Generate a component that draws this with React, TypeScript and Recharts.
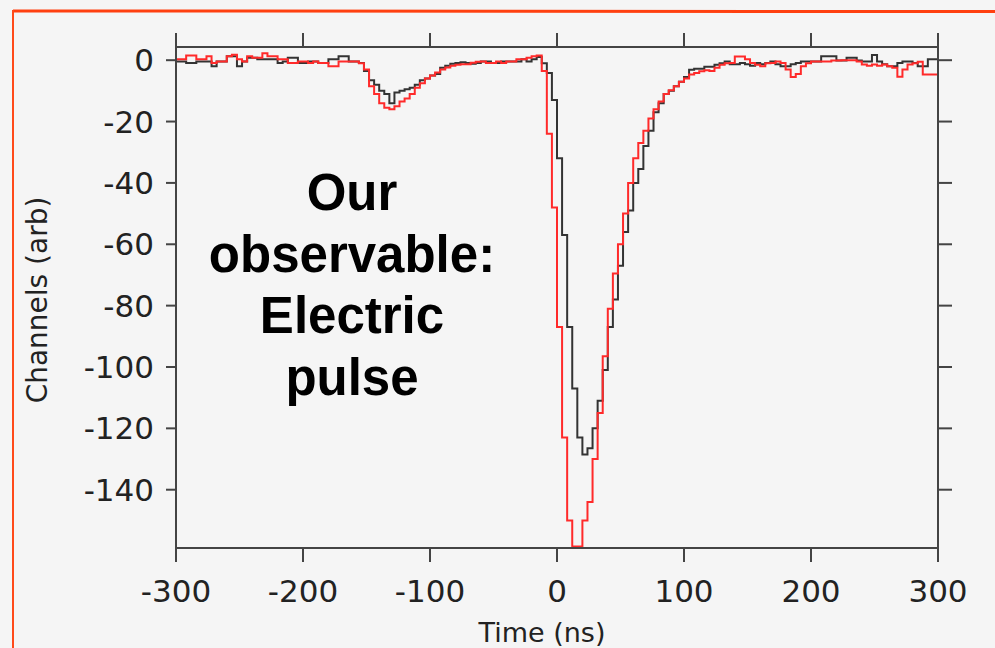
import React from "react";
import { LineChart, Line, XAxis, YAxis } from "recharts";

// Time bins (ns), 4 ns wide; last entry closes the final step
const times = [
  -300, -296, -292, -288, -284, -280, -276, -272, -268, -264,
  -260, -256, -252, -248, -244, -240, -236, -232, -228, -224,
  -220, -216, -212, -208, -204, -200, -196, -192, -188, -184,
  -180, -176, -172, -168, -164, -160, -156, -152, -148, -144,
  -140, -136, -132, -128, -124, -120, -116, -112, -108, -104,
  -100, -96, -92, -88, -84, -80, -76, -72, -68, -64,
  -60, -56, -52, -48, -44, -40, -36, -32, -28, -24,
  -20, -16, -12, -8, -4, 0, 4, 8, 12, 16,
  20, 24, 28, 32, 36, 40, 44, 48, 52, 56,
  60, 64, 68, 72, 76, 80, 84, 88, 92, 96,
  100, 104, 108, 112, 116, 120, 124, 128, 132, 136,
  140, 144, 148, 152, 156, 160, 164, 168, 172, 176,
  180, 184, 188, 192, 196, 200, 204, 208, 212, 216,
  220, 224, 228, 232, 236, 240, 244, 248, 252, 256,
  260, 264, 268, 272, 276, 280, 284, 288, 292, 296,
  300,
];

const redPulse = [
  0.3, 0.3, 1.5, 1.5, 0.3, 0.3, 1.3, -0.9, -0.4, -0.4,
  1.3, 1.8, 0.3, -0.4, 1.3, 0.8, 0.8, 2.3, 1.3, 1.3,
  0.3, 0.3, -0.9, -0.9, -0.4, -0.4, -0.9, -0.4, -0.9, -0.9,
  -2.0, -2.0, -0.4, -0.4, -0.4, -0.4, -1.0, -3.0, -8.5, -11,
  -14, -15.5, -16, -15, -13.5, -12.5, -11, -9, -7.5, -6,
  -5, -4, -3, -2.4, -1.8, -1.5, -1.3, -1.3, -0.8, -0.5,
  -0.4, -0.9, -0.9, -0.4, -0.9, -0.4, -0.4, 0.3, 0.3, 0.8,
  1.3, 1.5, -3.5, -24, -48, -87, -123, -150, -158.5, -158.5,
  -150, -144, -130, -115, -96.5, -81, -69.5, -60, -50, -40,
  -32, -27, -23, -19, -16, -13.5, -11, -9.8, -8.5, -7,
  -6, -4.7, -4.2, -3.6, -3.3, -3.5, -2.5, -1.5, -1.0, -0.9,
  1.2, 1.2, 0.3, -0.9, -1.5, -2.0, -1.0, -0.9, -0.4, -0.9,
  -3.0, -5.5, -4.5, -2.0, -1.0, -0.4, -0.4, -0.4, -0.4, -0.1,
  -0.1, 0.0, 0.0, 0.0, -0.4, -1.4, -1.8, -1.4, -1.8, -1.4,
  -2.0, -2.5, -5.4, -3.0, -1.4, -1.0, -0.5, -4.7, -4.7, -4.7,
  -4.7,
];

const blackPulse = [
  -0.4, -0.4, -0.9, -0.9, -0.4, -0.4, -0.4, -2.0, -0.4, -0.4,
  1.3, 1.3, -2.0, -0.4, 0.8, 0.8, 0.3, 0.3, 0.3, 0.3,
  -0.9, -0.4, 0.8, 0.8, -0.9, -0.9, -0.4, -0.4, -0.9, -0.9,
  0.3, 0.3, 1.3, 1.3, -0.4, -0.4, -0.9, -3.5, -6.5, -8,
  -10, -11, -14, -10.5, -10, -9.5, -9, -8, -6.5, -6,
  -5, -4.5, -2.5, -1.8, -1.2, -0.9, -0.7, -0.9, -1.2, -0.9,
  -0.4, -0.4, -0.9, -0.9, -0.4, -0.4, -0.4, -0.4, 0.3, -0.4,
  0.3, 1.0, -1.0, -4.2, -13, -32, -57, -87, -107, -123,
  -128.5, -126.5, -120, -111, -101, -87, -78, -67, -56, -49,
  -40, -35.5, -28, -23, -17, -14, -11, -10, -8.5, -7,
  -5.5, -3.1, -2.8, -2.8, -2.1, -2.1, -1.5, -1.0, -0.4, -1.3,
  -1.3, -0.9, -1.3, -1.8, -0.9, -1.3, -0.9, -0.4, -1.3, -2.0,
  -2.0, -1.3, -0.9, -0.4, -0.4, -0.4, -0.4, 1.3, 1.3, 1.3,
  -0.1, -0.1, 0.8, 0.8, -0.1, -0.4, -0.4, 1.7, -0.4, -1.3,
  -2.0, -2.0, -0.9, -0.4, -0.4, -0.9, -2.0, -2.0, 0.3, 0.3,
  0.3,
];

const xTicks = [-300, -200, -100, 0, 100, 200, 300];
const yTicks = [-140, -120, -100, -80, -60, -40, -20, 0];
const xTitle = "Time (ns)";
const yTitle = "Channels (arb)";
const noteLines = ["Our", "observable:", "Electric", "pulse"];

const data = times.map((t, i) => ({ t, red: redPulse[i], black: blackPulse[i] }));

const AXIS = "#444";
const FONT = "DejaVu Sans";
const blank = () => "";

export default function App() {
  return (
    <div style={{ position: "absolute", left: 0, top: 0, width: 995, height: 648, background: "#f5f5f5", overflow: "hidden" }}>
      <LineChart
        width={995}
        height={648}
        data={data}
        margin={{ top: 32, right: 43, bottom: 40, left: 116 }}
      >
        <XAxis
          xAxisId="bottom"
          dataKey="t"
          type="number"
          domain={[-300, 300]}
          ticks={xTicks}
          height={60}
          tickSize={14}
          tickMargin={18}
          axisLine={{ stroke: AXIS, strokeWidth: 2 }}
          tickLine={{ stroke: AXIS, strokeWidth: 2 }}
          tick={{ fill: "#222", fontSize: 31, fontFamily: FONT }}
          allowDataOverflow
        />
        <XAxis
          xAxisId="top"
          orientation="top"
          dataKey="t"
          type="number"
          domain={[-300, 300]}
          ticks={xTicks}
          height={15}
          tickSize={14}
          tickFormatter={blank}
          axisLine={{ stroke: AXIS, strokeWidth: 2 }}
          tickLine={{ stroke: AXIS, strokeWidth: 2 }}
          allowDataOverflow
        />
        <YAxis
          yAxisId="left"
          type="number"
          domain={[-159, 4.3]}
          ticks={yTicks}
          width={60}
          tickSize={10}
          tickMargin={12}
          axisLine={{ stroke: AXIS, strokeWidth: 2 }}
          tickLine={{ stroke: AXIS, strokeWidth: 2 }}
          tick={{ fill: "#222", fontSize: 31, fontFamily: FONT }}
          allowDataOverflow
        />
        <YAxis
          yAxisId="right"
          orientation="right"
          type="number"
          domain={[-159, 4.3]}
          ticks={yTicks}
          width={14}
          tickSize={14}
          tickFormatter={blank}
          axisLine={{ stroke: AXIS, strokeWidth: 2 }}
          tickLine={{ stroke: AXIS, strokeWidth: 2 }}
          allowDataOverflow
        />
        <Line
          xAxisId="bottom"
          yAxisId="left"
          dataKey="black"
          type="stepAfter"
          stroke="#333333"
          strokeWidth={2}
          dot={false}
          activeDot={false}
          isAnimationActive={false}
        />
        <Line
          xAxisId="bottom"
          yAxisId="left"
          dataKey="red"
          type="stepAfter"
          stroke="#ff2a2a"
          strokeWidth={2}
          dot={false}
          activeDot={false}
          isAnimationActive={false}
        />
      </LineChart>
      <svg
        width={995}
        height={648}
        style={{ position: "absolute", left: 0, top: 0, pointerEvents: "none" }}
      >
        <line x1={13} y1={11} x2={995} y2={11.5} stroke="#ff4010" strokeWidth={3} />
        <line x1={13} y1={10} x2={13} y2={648} stroke="#ff4a1a" strokeWidth={2} />
        <text x={542} y={642} textAnchor="middle" fontFamily={FONT} fontSize={27} fill="#222">
          {xTitle}
        </text>
        <text
          x={47}
          y={300}
          textAnchor="middle"
          fontFamily={FONT}
          fontSize={28}
          fill="#222"
          transform="rotate(-90 47 300)"
        >
          {yTitle}
        </text>
        {noteLines.map((s, i) => (
          <text
            key={s}
            x={352}
            y={210 + i * 61.7}
            textAnchor="middle"
            fontFamily="Liberation Sans, Arial, sans-serif"
            fontWeight="bold"
            fontSize={51}
            fill="#000"
          >
            {s}
          </text>
        ))}
      </svg>
    </div>
  );
}
